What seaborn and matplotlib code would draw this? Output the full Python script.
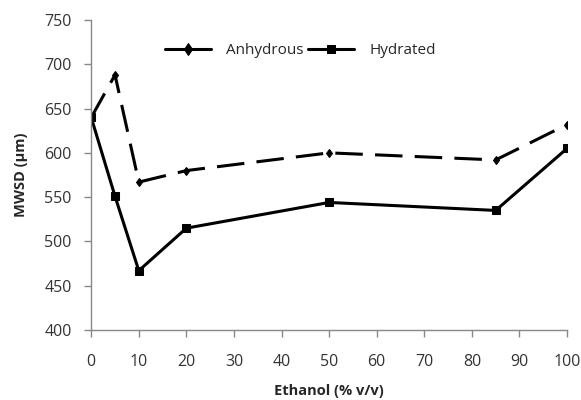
import matplotlib
matplotlib.use("Agg")
import matplotlib.pyplot as plt
import seaborn as sns
import pandas as pd

ethanol = [0, 5, 10, 20, 50, 85, 100]
anhydrous = [640, 688, 567, 580, 600, 592, 632]
hydrated = [640, 551, 467, 515, 544, 535, 605]
series_names = ["Anhydrous", "Hydrated"]

sns.set_theme(style="white")
plt.rcParams['font.family'] = ['Open Sans', 'DejaVu Sans']

df = pd.DataFrame({
    "Ethanol": ethanol * 2,
    "MWSD": anhydrous + hydrated,
    "Series": [series_names[0]] * len(ethanol) + [series_names[1]] * len(ethanol),
})

fig = plt.figure(figsize=(5.81, 4.0), dpi=100)
ax = fig.add_axes([0.157, 0.175, 0.819, 0.775])

sns.lineplot(data=df, x="Ethanol", y="MWSD", hue="Series", style="Series",
             palette=["black", "black"], dashes={"Anhydrous": (9, 4), "Hydrated": ""},
             markers={"Anhydrous": "d", "Hydrated": "s"}, markersize=6,
             linewidth=2.2, markeredgecolor="black", ax=ax)
ax.lines[0].set_markersize(4.5)

ax.set_xlim(0, 100)
ax.set_ylim(400, 750)
ax.set_xticks(range(0, 101, 10))
ax.set_yticks(range(400, 751, 50))
ax.tick_params(axis="both", which="major", length=5, width=1, color="#888888",
               labelsize=11.5, labelcolor="#333333", direction="out", bottom=True, left=True)
ax.tick_params(axis="x", pad=12)
ax.tick_params(axis="y", pad=9)
for s in ["top", "right"]:
    ax.spines[s].set_visible(False)
for s in ["left", "bottom"]:
    ax.spines[s].set_color("#888888")
    ax.spines[s].set_linewidth(1)

ax.set_xlabel("Ethanol (% v/v)", fontsize=10.5, fontweight="bold", labelpad=10)
ax.set_ylabel("MWSD (µm)", fontsize=10.5, fontweight="bold", labelpad=12)

leg = ax.legend(loc="upper center", bbox_to_anchor=(0.44, 0.97), ncol=2, frameon=False,
                fontsize=11, handlelength=3, columnspacing=0.3, handletextpad=1.0)
for h in leg.get_lines():
    h.set_linestyle("-")

fig.savefig("out.png", dpi=100)
